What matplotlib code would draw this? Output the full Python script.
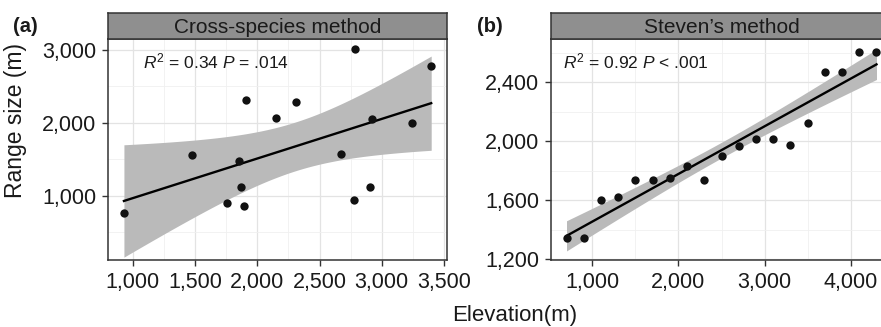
import numpy as np
import matplotlib
matplotlib.use("Agg")
import matplotlib.pyplot as plt
from matplotlib.ticker import FuncFormatter, MultipleLocator

plt.rcParams['font.family'] = ['Liberation Sans', 'DejaVu Sans']
plt.rcParams['mathtext.fontset'] = 'custom'
plt.rcParams['mathtext.rm'] = 'Liberation Sans'
plt.rcParams['mathtext.it'] = 'Liberation Sans:italic'

# Panel (a): Cross-species method
elev_a = [928, 1476, 1754, 1852, 1867, 1894, 1912, 2148, 2314, 2674,
          2776, 2782, 2907, 2921, 3239, 3397]
range_a = [758, 1552, 895, 1478, 1120, 854, 2312, 2061, 2289, 1574,
           937, 3010, 1116, 2051, 2000, 2784]

# Panel (b): Steven's method
elev_b = [700, 900, 1100, 1300, 1500, 1700, 1900, 2100, 2300, 2500,
          2700, 2900, 3100, 3300, 3500, 3700, 3900, 4100, 4300]
range_b = [1342, 1342, 1605, 1625, 1736, 1736, 1752, 1835, 1738, 1900,
           1971, 2018, 2018, 1973, 2122, 2468, 2468, 2603, 2603]

titles = ["Cross-species method", "Steven\u2019s method"]
labels = ["(a)", "(b)"]
annots = [r"$R^2$ = 0.34 $P$ = .014", r"$R^2$ = 0.92 $P$ < .001"]
t_crit = [2.1448, 2.1098]  # t(0.975, df=n-2)

W, H = 881, 327
fig = plt.figure(figsize=(W / 100, H / 100), dpi=100)

def fx(px):
    return px / W

def fy(py):
    return 1 - py / H

panels = [
    dict(x=elev_a, y=range_a, l=108, r=447, xlim=(800, 3524), ylim=(116, 3151),
         xmaj=500, xmin=250, ymaj=1000, ymin=500, lab_x=13, ann_x=143),
    dict(x=elev_b, y=range_b, l=551, r=892, xlim=(520, 4480), ylim=(1195, 2693),
         xmaj=1000, xmin=500, ymaj=400, ymin=200, lab_x=477, ann_x=563),
]

top_strip, bot_strip, bottom = 13, 39, 260
spine_col = '#333333'

for i, p in enumerate(panels):
    ax = fig.add_axes([fx(p['l']), fy(bottom), fx(p['r'] - p['l']), (bottom - bot_strip) / H])
    x = np.array(p['x'], float)
    y = np.array(p['y'], float)
    n = len(x)
    b1, b0 = np.polyfit(x, y, 1)
    xs = np.linspace(x.min(), x.max(), 200)
    yhat = b0 + b1 * xs
    resid = y - (b0 + b1 * x)
    s = np.sqrt(np.sum(resid ** 2) / (n - 2))
    sxx = np.sum((x - x.mean()) ** 2)
    se = s * np.sqrt(1 / n + (xs - x.mean()) ** 2 / sxx)
    ax.fill_between(xs, yhat - t_crit[i] * se, yhat + t_crit[i] * se,
                    color='#bababa', lw=0, zorder=2)
    ax.plot(xs, yhat, color='black', lw=1.7, zorder=3)
    ax.scatter(x, y, s=36, color='#111111', zorder=4, linewidths=0)

    ax.set_xlim(*p['xlim'])
    ax.set_ylim(*p['ylim'])
    ax.xaxis.set_major_locator(MultipleLocator(p['xmaj']))
    ax.xaxis.set_minor_locator(MultipleLocator(p['xmin']))
    ax.yaxis.set_major_locator(MultipleLocator(p['ymaj']))
    ax.yaxis.set_minor_locator(MultipleLocator(p['ymin']))
    fmt = FuncFormatter(lambda v, pos: f"{int(round(v)):,}")
    ax.xaxis.set_major_formatter(fmt)
    ax.yaxis.set_major_formatter(fmt)
    ax.grid(which='major', color='#e3e3e3', lw=0.9, zorder=0)
    ax.grid(which='minor', color='#f0f0f0', lw=0.6, zorder=0)
    ax.set_axisbelow(True)
    ax.tick_params(which='major', direction='out', length=4, width=1,
                   color=spine_col, labelsize=15.5, labelcolor='#1a1a1a', pad=4.5)
    ax.tick_params(which='minor', length=0)
    for sp in ax.spines.values():
        sp.set_color(spine_col)
        sp.set_linewidth(1.1)

    ax.text((p['ann_x'] - p['l']) / (p['r'] - p['l']), 1 - (61 - bot_strip) / (bottom - bot_strip),
            annots[i], transform=ax.transAxes, fontsize=12.5, va='center', ha='left',
            color='#1a1a1a')

    # strip
    sax = fig.add_axes([fx(p['l']), fy(bot_strip), fx(p['r'] - p['l']), (bot_strip - top_strip) / H])
    sax.set_xlim(0, 1)
    sax.set_ylim(0, 1)
    sax.set_facecolor('#8f8f8f')
    sax.set_xticks([])
    sax.set_yticks([])
    for sp in sax.spines.values():
        sp.set_color(spine_col)
        sp.set_linewidth(1.1)
    sax.text(0.5, 0.45, titles[i], fontsize=15, ha='center', va='center', color='#1a1a1a')

    fig.text(fx(p['lab_x']), fy(27), labels[i], fontsize=14.5, fontweight='bold',
             ha='left', va='center', color='#1a1a1a')

fig.text(fx(16), fy(120), "Range size (m)", rotation=90, fontsize=16.5,
         ha='center', va='center', color='#1a1a1a')
fig.text(fx(515), fy(316), "Elevation(m)", fontsize=16,
         ha='center', va='center', color='#1a1a1a')

fig.savefig("out.png", dpi=100)
